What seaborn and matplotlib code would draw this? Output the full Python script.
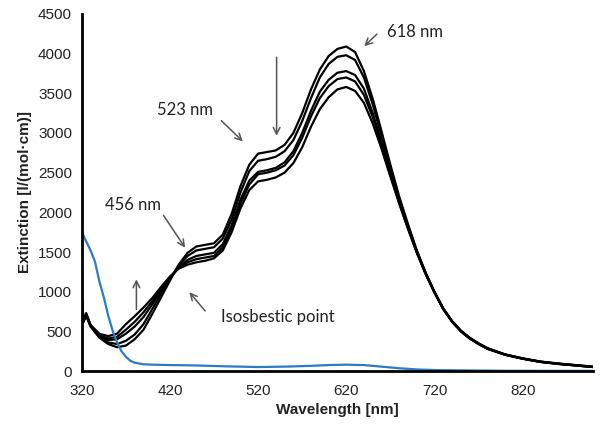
import numpy as np
import pandas as pd
import seaborn as sns
import matplotlib.pyplot as plt

# wavelength grid shared by the five black spectra
wavelength = [320, 322, 325, 330, 340, 350, 360, 370, 380, 390, 400, 410, 420, 430, 440,
              450, 460, 470, 480, 490, 500, 510, 520, 530, 540, 550, 560, 570, 580, 590,
              600, 610, 620, 630, 640, 650, 660, 670, 680, 690, 700, 710, 720, 730, 740,
              750, 760, 770, 780, 800, 820, 840, 860, 880, 900]

spec_a = [980, 620, 700, 560, 420, 340, 300, 320, 400, 520, 720, 930, 1140, 1340, 1490,
          1570, 1590, 1610, 1720, 1980, 2330, 2600, 2740, 2760, 2780, 2850, 3000, 3250, 3550, 3800,
          3970, 4060, 4090, 4020, 3780, 3430, 3020, 2600, 2200, 1850, 1520, 1240, 1000, 790, 630,
          510, 420, 350, 290, 210, 160, 120, 95, 75, 55]
spec_b = [950, 630, 710, 570, 430, 360, 340, 380, 460, 590, 780, 980, 1160, 1330, 1450,
          1520, 1540, 1560, 1670, 1910, 2250, 2520, 2650, 2670, 2700, 2770, 2910, 3150, 3440, 3700,
          3870, 3960, 3980, 3920, 3700, 3360, 2960, 2560, 2170, 1830, 1510, 1235, 995, 785, 625,
          505, 415, 345, 285, 208, 158, 118, 93, 73, 53]
spec_c = [920, 650, 700, 570, 440, 390, 400, 470, 560, 680, 840, 1010, 1170, 1310, 1400,
          1450, 1470, 1490, 1600, 1840, 2160, 2400, 2510, 2530, 2560, 2630, 2770, 3000, 3280, 3520,
          3670, 3760, 3780, 3730, 3560, 3250, 2880, 2500, 2140, 1810, 1500, 1230, 992, 783, 623,
          503, 413, 343, 283, 206, 156, 116, 91, 71, 51]
spec_d = [940, 620, 730, 580, 450, 410, 430, 520, 620, 740, 880, 1030, 1180, 1300, 1370,
          1410, 1430, 1450, 1560, 1800, 2110, 2350, 2480, 2500, 2530, 2590, 2720, 2940, 3210, 3440,
          3590, 3680, 3700, 3650, 3480, 3200, 2850, 2480, 2120, 1800, 1495, 1225, 991, 781, 621,
          501, 411, 341, 281, 205, 155, 115, 90, 70, 50]
spec_e = [900, 640, 720, 580, 470, 440, 470, 590, 690, 800, 920, 1060, 1190, 1290, 1340,
          1370, 1390, 1420, 1520, 1750, 2050, 2280, 2390, 2410, 2440, 2500, 2620, 2820, 3080, 3300,
          3450, 3550, 3580, 3530, 3380, 3120, 2800, 2450, 2110, 1790, 1490, 1220, 990, 780, 620,
          500, 410, 340, 280, 205, 155, 115, 90, 70, 50]

# blue reference spectrum
blue_wl = [320, 323, 330, 335, 340, 345, 350, 355, 360, 365, 370, 375, 380, 390, 400, 420,
           450, 480, 500, 520, 550, 580, 600, 620, 640, 660, 680, 700, 720, 750, 780, 800,
           850, 900]
blue_ext = [1760, 1680, 1520, 1380, 1130, 930, 700, 510, 360, 250, 180, 130, 105, 85, 80, 75,
            70, 60, 55, 50, 55, 65, 75, 80, 75, 55, 35, 20, 12, 8, 5, 3, 2, 2]

x_ticks = [320, 420, 520, 620, 720, 820]
y_ticks = list(range(0, 5000, 500))

df = pd.concat([pd.DataFrame({'wl': wavelength, 'ext': s, 'curve': name})
                for name, s in zip('abcde', [spec_a, spec_b, spec_c, spec_d, spec_e])])
blue = pd.DataFrame({'wl': blue_wl, 'ext': blue_ext})

sns.set_theme(style="white")
plt.rcParams['font.family'] = ['Liberation Sans', 'DejaVu Sans']

fig, ax = plt.subplots(figsize=(6.01, 4.37), dpi=100)
fig.subplots_adjust(left=0.136, right=0.987, bottom=0.151, top=0.968)

sns.lineplot(data=df, x='wl', y='ext', units='curve', estimator=None,
             color='black', lw=1.6, ax=ax)
sns.lineplot(data=blue, x='wl', y='ext', color='#2b7bc9', lw=1.6, ax=ax)

ax.set_xlim(320, 900)
ax.set_ylim(0, 4500)
ax.set_xticks(x_ticks)
ax.set_yticks(y_ticks)
ax.tick_params(axis='both', length=0, labelsize=11, colors='#222222')
ax.tick_params(axis='y', pad=7)
ax.tick_params(axis='x', pad=9)
ax.set_xlabel('Wavelength [nm]', fontsize=11, fontweight='bold', color='#222222')
ax.set_ylabel('Extinction [l/(mol·cm)]', fontsize=11, fontweight='bold', color='#222222')

for side in ['top', 'right']:
    ax.spines[side].set_visible(False)
for side in ['left', 'bottom']:
    ax.spines[side].set_color('black')
    ax.spines[side].set_linewidth(2)

# annotations
arrow = dict(arrowstyle='->', color='#555555', lw=1.1)
note_font = dict(fontsize=12, family=['Lato', 'DejaVu Sans'], color='#222222', va='center')

ax.annotate('', xy=(638, 4070), xytext=(657, 4270), arrowprops=arrow)
ax.text(666, 4270, '618 nm', **note_font)

ax.annotate('', xy=(541, 2930), xytext=(541, 3990), arrowprops=arrow)

ax.annotate('', xy=(505, 2870), xytext=(476, 3180), arrowprops=arrow)
ax.text(405, 3290, '523 nm', **note_font)

ax.annotate('', xy=(439, 1525), xytext=(411, 1990), arrowprops=arrow)
ax.text(346, 2090, '456 nm', **note_font)

ax.annotate('', xy=(382, 1190), xytext=(382, 740), arrowprops=arrow)

ax.annotate('', xy=(440, 1020), xytext=(462, 730), arrowprops=arrow)
ax.text(478, 680, 'Isosbestic point', **note_font)

plt.savefig('out.png', dpi=100)
